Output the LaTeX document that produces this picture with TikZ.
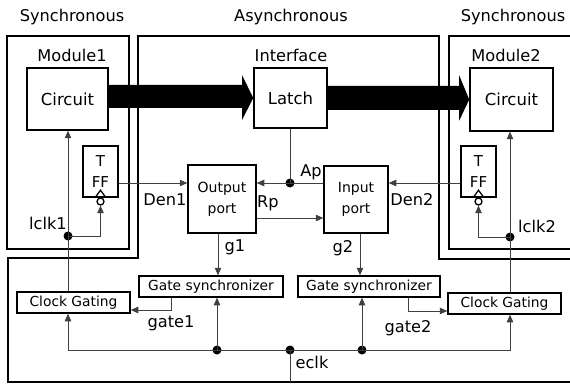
\documentclass[tikz,border=0pt]{standalone}
\usepackage{fontspec}
\setmainfont{DejaVu Sans}
\usetikzlibrary{arrows.meta,calc}
\begin{document}
\begin{tikzpicture}[x=1pt,y=-1pt,
  region/.style={draw, line width=1.6pt},
  box/.style={draw, line width=1.5pt, inner sep=0pt, align=center},
  bigfont/.style={font=\fontsize{16.5}{18}\selectfont},
  midfont/.style={font=\fontsize{13.8}{15}\selectfont},
  portfont/.style={font=\fontsize{14}{21}\selectfont},
  tfffont/.style={font=\fontsize{15}{21}\selectfont},
  conn/.style={draw=black!75, line width=0.7pt},
  arr/.style={conn, -{Triangle[length=7.5pt,width=6.5pt]}},
  dot/.style={circle, fill=black, inner sep=0pt, minimum size=9pt},
  lab/.style={font=\fontsize{16.2}{18}\selectfont, inner sep=0pt},
  bigarrow/.style={fill=black}
]
\clip (0,0) rectangle (570,385);
\fill[white] (0,0) rectangle (570,385);

% regions
\draw[region] (7,36) rectangle (129,249);
\draw[region] (449,36) rectangle (590,249);
\draw[region] (138,36) -- (439,36) -- (439,259) -- (590,259) -- (590,382)
  -- (8,382) -- (8,258) -- (138,258) -- cycle;

% region titles
\node[lab] (tsync1) at (72,17) {Synchronous};
\node[lab] (tasync) at (291,17) {Asynchronous};
\node[lab] (tsync2) at (513,17) {Synchronous};
\node[lab] (tmod1) at (72,55) {Module1};
\node[lab] (tintf) at (291,55) {Interface};
\node[lab] (tmod2) at (506,55) {Module2};

% boxes
\node[box, bigfont, minimum width=81pt, minimum height=62pt] (cir1) at (67.5,99) {Circuit};
\node[box, bigfont, minimum width=73pt, minimum height=60pt] (latch) at (290.5,98) {Latch};
\node[box, bigfont, minimum width=83pt, minimum height=63pt] (cir2) at (511.5,99.5) {Circuit};
\node[box, tfffont, minimum width=35pt, minimum height=51pt] (tff1) at (100.5,171.5) {T\\FF};
\node[box, tfffont, minimum width=35pt, minimum height=51pt] (tff2) at (478.5,171.5) {T\\FF};
\node[box, portfont, minimum width=68pt, minimum height=68pt] (outp) at (222,199) {Output\\port};
\node[box, portfont, minimum width=64pt, minimum height=67pt] (inp) at (356,199.5) {Input\\port};
\node[box, midfont, minimum width=144pt, minimum height=21pt] (gs1) at (211,286.5) {Gate synchronizer};
\node[box, midfont, minimum width=142pt, minimum height=21pt] (gs2) at (369,286.5) {Gate synchronizer};
\node[box, midfont, minimum width=113pt, minimum height=21pt] (cg1) at (73.5,302.5) {Clock Gating};
\node[box, midfont, minimum width=113pt, minimum height=21pt] (cg2) at (504.5,303.5) {Clock Gating};

% TFF clock inputs
\draw[line width=1.3pt] ([xshift=-5.5pt]tff1.south) -- ([yshift=7.5pt]tff1.south) -- ([xshift=5.5pt]tff1.south);
\draw[line width=1.3pt] ([xshift=-5.5pt]tff2.south) -- ([yshift=7.5pt]tff2.south) -- ([xshift=5.5pt]tff2.south);
\node[circle, draw, line width=1.3pt, inner sep=0pt, minimum size=7pt] (ck1) at (100.5,201.5) {};
\node[circle, draw, line width=1.3pt, inner sep=0pt, minimum size=7pt] (ck2) at (478.5,201.5) {};

% big data arrows
\fill[bigarrow] (cir1.east |- 0,85) -- (242,85) -- (242,75) -- (latch.west) -- (242,120) -- (242,108) -- (cir1.east |- 0,108) -- cycle;
\fill[bigarrow] (latch.east |- 0,86) -- (459,86) -- (459,75) -- (cir2.west) -- (459,121) -- (459,110) -- (latch.east |- 0,110) -- cycle;

% coordinates / dots
\node[dot] (l1) at (68,236) {};
\node[dot] (l2) at (510,237) {};
\node[dot] (ap) at (290,183) {};
\node[dot] (e1) at (217,350) {};
\node[dot] (e0) at (290,350) {};
\node[dot] (e2) at (362,350) {};
\coordinate (den) at (150,183);
\coordinate (rp) at (290,218);
\coordinate (g1x) at (218,250);
\coordinate (g2x) at (360,250);
\coordinate (gt1) at (171,310);
\coordinate (gt2) at (408,311);
\coordinate (eb) at (290,382);

% local clocks
\draw[arr] (cg1.north -| l1) -- (cir1.south -| l1);
\draw[arr] (l1.center) -| (ck1.south);
\draw[arr] (cg2.north -| l2) -- (cir2.south -| l2);
\draw[arr] (l2.center) -| (ck2.south);

% handshake
\draw[arr] (tff1.east |- den) -- (outp.west |- den);
\draw[conn] (latch.south -| ap) -- (ap.center);
\draw[conn] (inp.west |- ap) -- (ap.center);
\draw[arr] (ap.center) -- (outp.east |- ap);
\draw[arr] (outp.east |- rp) -- (inp.west |- rp);
\draw[arr] (tff2.west |- ap) -- (inp.east |- ap);

% gate signals
\draw[arr] (outp.south -| g1x) -- (gs1.north -| g1x);
\draw[arr] (inp.south -| g2x) -- (gs2.north -| g2x);
\draw[arr] (gs1.south -| gt1) -- (gt1) -- (cg1.east |- gt1);
\draw[arr] (gs2.south -| gt2) -- (gt2) -- (cg2.west |- gt2);

% eclk
\draw[conn] (e0.center) -- (eb);
\draw[conn] (e1.center) -- (e2.center);
\draw[arr] (e1.center) -- (e1 -| l1) -- (cg1.south -| l1);
\draw[arr] (e2.center) -- (e2 -| l2) -- (cg2.south -| l2);
\draw[arr] (e1.center) -- (gs1.south -| e1);
\draw[arr] (e2.center) -- (gs2.south -| e2);

% labels
\node[lab] (ll1) at (48,223) {lclk1};
\node[lab] (ll2) at (537,226) {lclk2};
\node[lab] (lden1) at (165,200) {Den1};
\node[lab] (lap) at (311,172) {Ap};
\node[lab] (lrp) at (268,203) {Rp};
\node[lab] (lden2) at (412,200) {Den2};
\node[lab] (lg1) at (235,247) {g1};
\node[lab] (lg2) at (343,248) {g2};
\node[lab] (lgate1) at (171,323) {gate1};
\node[lab] (lgate2) at (408,328) {gate2};
\node[lab] (leclk) at (312,362) {eclk};
\end{tikzpicture}
\end{document}
